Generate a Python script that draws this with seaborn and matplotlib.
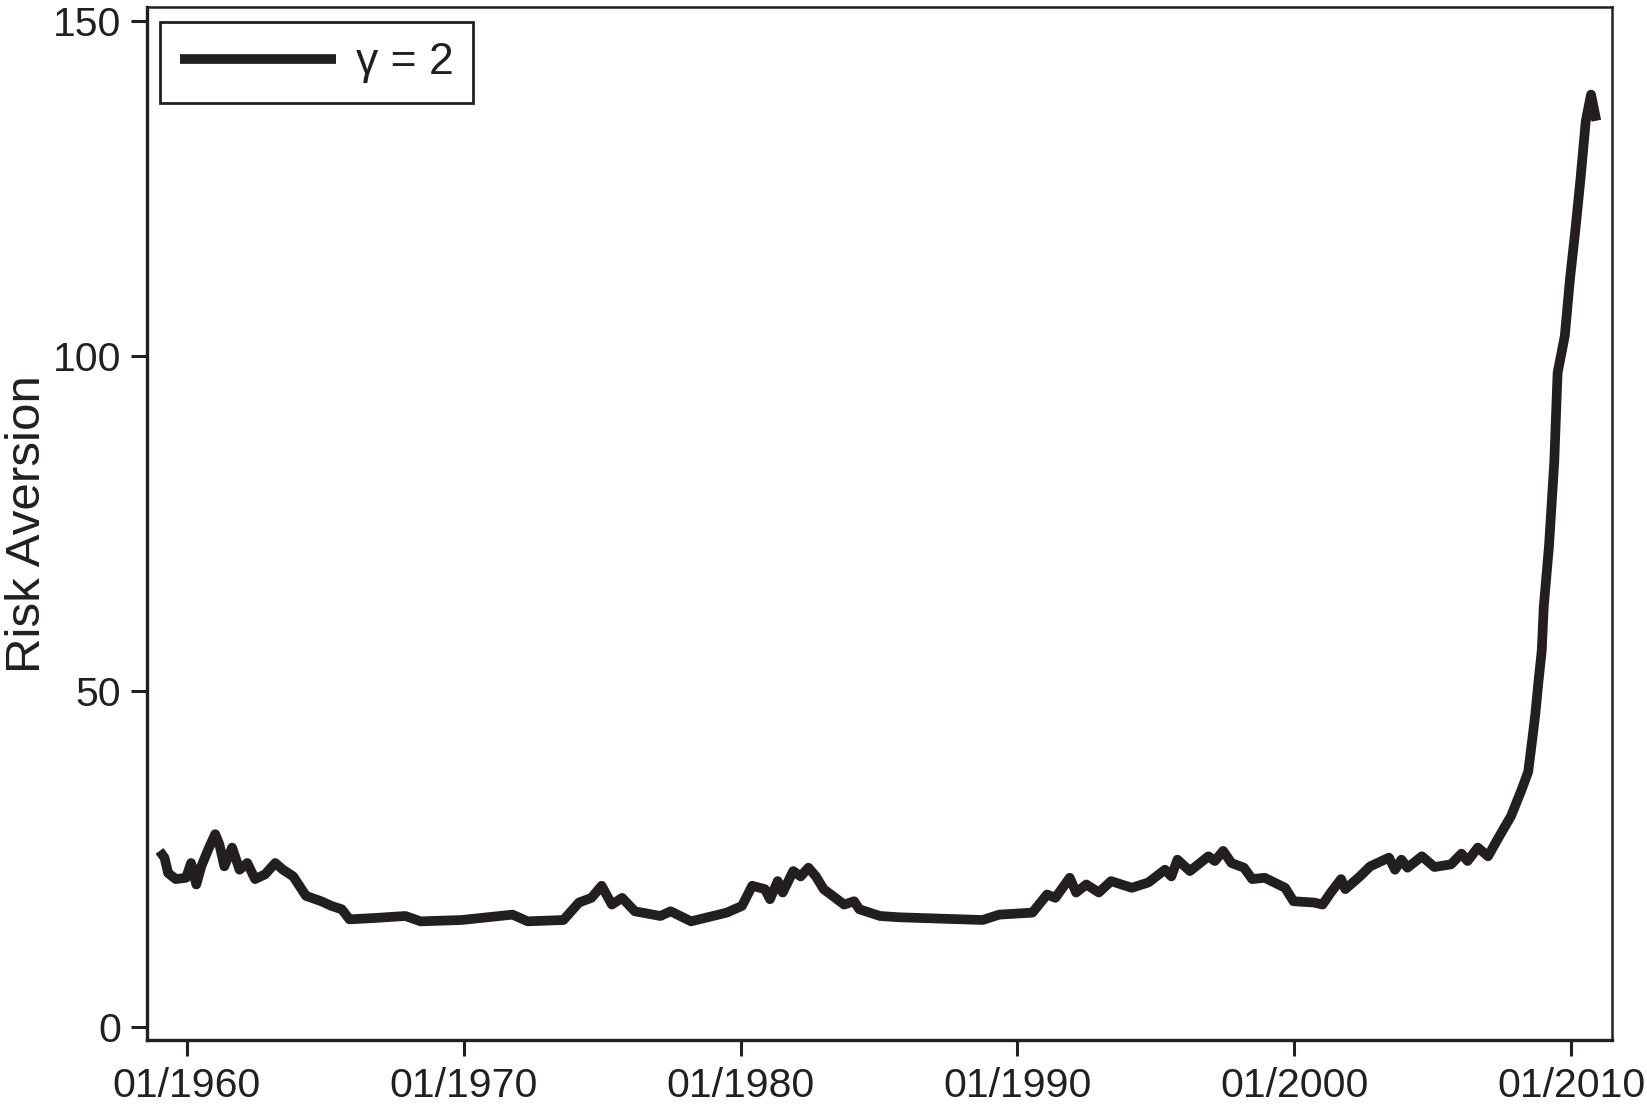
import pandas as pd
import numpy as np
import matplotlib
matplotlib.use("Agg")
import matplotlib.pyplot as plt
import matplotlib.dates as mdates
import seaborn as sns

# Risk aversion series (gamma = 2): decimal year, value
years = [
    1959.01, 1959.19, 1959.32, 1959.60, 1959.97, 1960.15, 1960.34, 1960.52, 1960.80, 1961.02,
    1961.17, 1961.35, 1961.63, 1961.90, 1962.18, 1962.46, 1962.82, 1963.19, 1963.47, 1963.84,
    1964.30, 1964.85, 1965.22, 1965.59, 1965.87, 1966.79, 1967.89, 1968.44, 1969.92, 1971.76,
    1972.31, 1973.60, 1974.16, 1974.61, 1974.98, 1975.35, 1975.72, 1976.18, 1977.10, 1977.47,
    1978.21, 1979.50, 1980.05, 1980.42, 1980.88, 1981.06, 1981.34, 1981.52, 1981.90, 1982.17,
    1982.45, 1982.72, 1983.00, 1983.74, 1984.10, 1984.29, 1985.03, 1985.75, 1986.50, 1987.25,
    1988.74, 1989.34, 1990.54, 1991.07, 1991.37, 1991.89, 1992.12, 1992.49, 1992.94, 1993.38,
    1994.13, 1994.73, 1995.33, 1995.56, 1995.78, 1996.23, 1996.90, 1997.13, 1997.43, 1997.73,
    1998.18, 1998.48, 1998.93, 1999.67, 1999.97, 2000.72, 2001.02, 2001.32, 2001.69, 2001.84,
    2002.37, 2002.74, 2003.42, 2003.64, 2003.87, 2004.09, 2004.61, 2005.06, 2005.66, 2006.04,
    2006.26, 2006.63, 2007.00, 2007.38, 2007.83, 2008.20, 2008.45, 2008.62, 2008.71, 2008.82,
    2008.94, 2009.01, 2009.20, 2009.39, 2009.51, 2009.77, 2009.96, 2010.15, 2010.34, 2010.53,
    2010.72, 2010.91,
]
risk_aversion = [
    26.2, 25.2, 22.9, 22.0, 22.2, 24.4, 21.2, 23.9, 26.7, 28.7,
    27.2, 23.9, 26.7, 23.4, 24.4, 22.0, 22.7, 24.4, 23.4, 22.4,
    19.5, 18.7, 18.0, 17.5, 16.0, 16.2, 16.5, 15.7, 15.9, 16.7,
    15.7, 15.9, 18.5, 19.2, 21.0, 18.2, 19.2, 17.2, 16.5, 17.2,
    15.7, 17.0, 18.0, 21.0, 20.5, 19.0, 21.7, 20.0, 23.2, 22.4,
    23.7, 22.4, 20.5, 18.2, 18.7, 17.5, 16.5, 16.3, 16.2, 16.1,
    15.9, 16.7, 17.0, 19.7, 19.2, 22.2, 20.0, 21.2, 20.0, 21.7,
    20.7, 21.5, 23.4, 22.4, 24.9, 23.2, 25.4, 24.7, 26.2, 24.4,
    23.7, 22.0, 22.2, 20.7, 18.7, 18.5, 18.2, 20.0, 22.0, 20.5,
    22.4, 23.9, 25.2, 23.4, 24.9, 23.7, 25.4, 23.8, 24.2, 25.8,
    24.7, 26.7, 25.4, 28.2, 31.4, 35.2, 38.0, 43.6, 46.7, 51.4,
    56.1, 62.6, 71.7, 84.2, 97.5, 103.0, 111.6, 118.7, 126.5, 135.1,
    139.0, 135.1,
]
series_label = "γ = 2"
y_ticks = [0, 50, 100, 150]
x_tick_years = [1960, 1970, 1980, 1990, 2000, 2010]


def to_date(y):
    # decimal year -> timestamp
    yr = int(y)
    return pd.Timestamp(year=yr, month=1, day=1) + pd.Timedelta(days=(y - yr) * 365.25)


df = pd.DataFrame({"date": [to_date(y) for y in years], "value": risk_aversion})

ink = "#231f20"
sns.set_style("ticks")
plt.rcParams["font.family"] = ["Liberation Sans", "DejaVu Sans"]

fig = plt.figure(figsize=(16.47, 11.09), dpi=100)
ax = fig.add_axes([0.0893, 0.0622, 0.8895, 0.9311])

sns.lineplot(data=df, x="date", y="value", ax=ax, color=ink, linewidth=7,
             label=series_label, solid_joinstyle="round", solid_capstyle="butt")

ax.set_xlim(to_date(1958.56), to_date(2011.48))
ax.set_ylim(-2, 152)
ax.set_yticks(y_ticks)
ax.set_xticks([pd.Timestamp(year=y, month=1, day=1) for y in x_tick_years])
ax.xaxis.set_major_formatter(mdates.DateFormatter("%m/%Y"))

ax.set_xlabel("")
ax.set_ylabel("Risk Aversion", fontsize=35.5, color=ink)
ax.yaxis.set_label_coords(-0.066, 0.5)
ax.tick_params(axis="both", labelsize=29.5, colors=ink, length=11.5, width=2.2,
               direction="out")
ax.tick_params(axis="x", pad=8)
ax.tick_params(axis="y", pad=7)

for side in ["left", "bottom"]:
    ax.spines[side].set_linewidth(2.4)
    ax.spines[side].set_color(ink)
for side in ["top", "right"]:
    ax.spines[side].set_linewidth(1.8)
    ax.spines[side].set_color(ink)

leg = ax.legend(loc="upper left", bbox_to_anchor=(0.0089, 0.9855), borderaxespad=0,
                fontsize=32, handlelength=3.5, handletextpad=0.45, borderpad=0.45,
                frameon=True, fancybox=False, framealpha=1)
leg.get_frame().set_edgecolor(ink)
leg.get_frame().set_linewidth(2.0)
for t in leg.get_texts():
    t.set_color(ink)

fig.savefig("out.png", dpi=100)
